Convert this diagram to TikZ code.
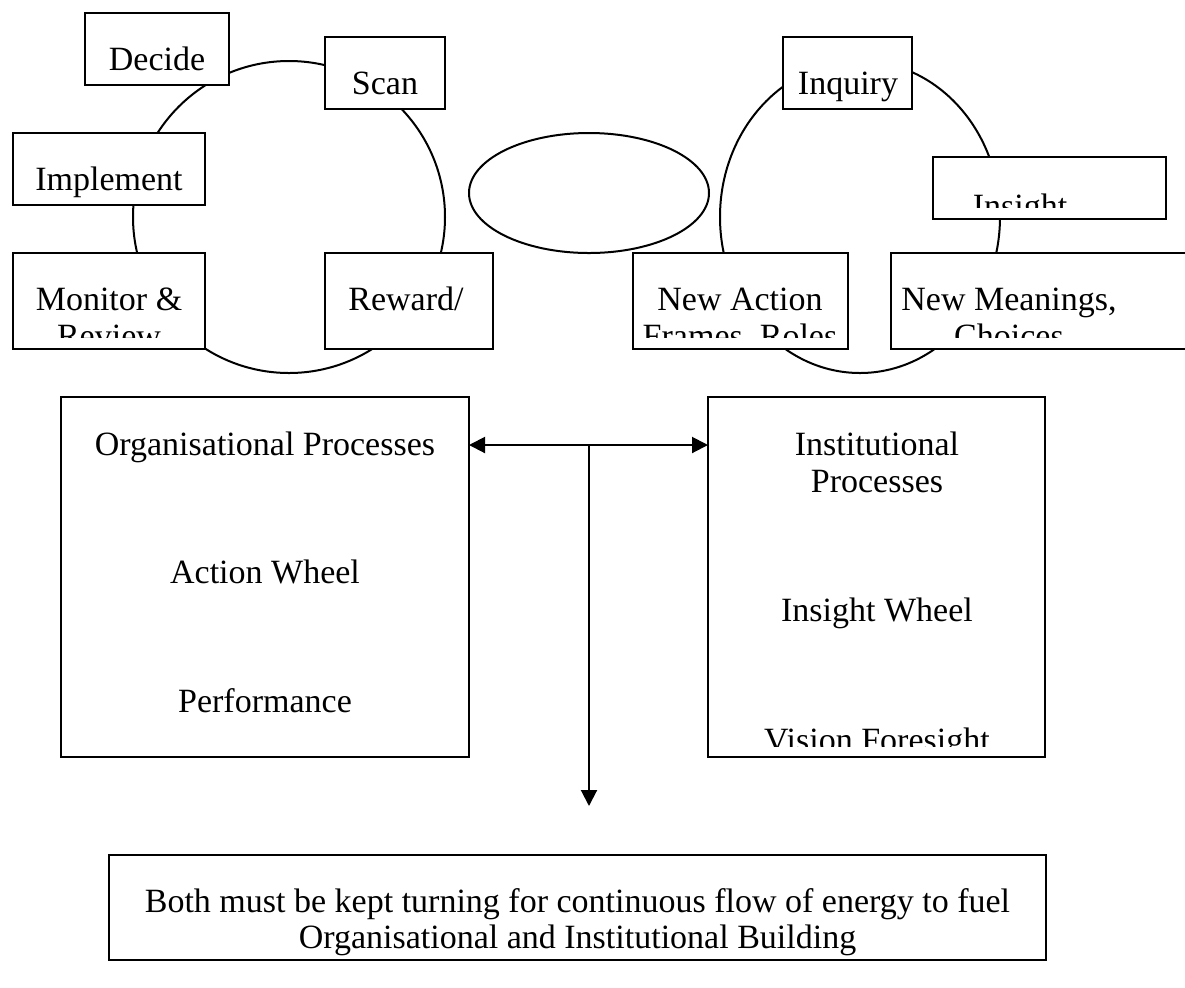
\documentclass[tikz,border=0pt]{standalone}
\usepackage{fontspec}
\setmainfont{Liberation Serif}
\usetikzlibrary{arrows.meta}
\begin{document}
\begin{tikzpicture}[x=0.5pt,y=-0.5pt,
  >={Triangle[length=8pt,width=8pt]},
  box/.style={draw, line width=1pt, fill=white, rectangle, inner sep=0pt, outer sep=0pt},
  lbl/.style={anchor=base, inner sep=0pt, font=\fontsize{17}{18}\selectfont},
  wheel/.style={draw, line width=1pt},
  conn/.style={line width=1pt}
]
\useasboundingbox (0,0) rectangle (1185,987);

% wheels and ellipse
\draw[wheel] (289,217) circle[radius=156];
\draw[wheel] (860,217) ellipse[x radius=140, y radius=156];
\draw[wheel] (589,193) ellipse[x radius=120, y radius=60];

% boxes of the action wheel
\node[box, minimum width=72pt,  minimum height=36pt] (decide)    at (157,49) {};
\node[box, minimum width=60pt,  minimum height=36pt] (scan)      at (385,73) {};
\node[box, minimum width=96pt,  minimum height=36pt] (implement) at (109,169) {};
\node[box, minimum width=96pt,  minimum height=48pt] (monitor)   at (109,301) {};
\node[box, minimum width=84pt,  minimum height=48pt] (reward)    at (409,301) {};
% boxes of the insight wheel
\node[box, minimum width=64.5pt, minimum height=36pt] (inquiry)  at (847.5,73) {};
\node[box, minimum width=116.5pt,minimum height=31pt] (insight)  at (1049.5,188) {};
\node[box, minimum width=107.5pt,minimum height=48pt] (newaction) at (740.5,301) {};
\node[box, minimum width=152pt,  minimum height=48pt] (newmean)  at (1043,301) {};
% big boxes
\node[box, minimum width=204pt,  minimum height=180pt] (org)  at (265,577) {};
\node[box, minimum width=168.5pt,minimum height=180pt] (inst) at (876.5,577) {};
\node[box, minimum width=468.5pt,minimum height=52.5pt] (both) at (577.5,907.5) {};

% texts
\node[lbl] (tdecide) at (157,70) {Decide};
\node[lbl] (tscan) at (385,94) {Scan};
\node[lbl] (timpl) at (109,190) {Implement};
\begin{scope}
  \clip (monitor.north west) rectangle ([yshift=6pt]monitor.south east);
  \node[lbl] (tmon1) at (109,310) {Monitor \&};
  \node[lbl] (tmon2) at (109,347) {Review};
\end{scope}
\node[lbl] (treward) at (406,310) {Reward/};
\node[lbl] (tinq) at (848,94) {Inquiry};
\begin{scope}
  \clip (insight.north west) rectangle ([yshift=6pt]insight.south east);
  \node[lbl] (tins) at (1020,217) {Insight};
\end{scope}
\begin{scope}
  \clip (newaction.north west) rectangle ([yshift=6pt]newaction.south east);
  \node[lbl] (tna1) at (740,310) {New Action};
  \node[lbl] (tna2) at (740,347) {Frames, Roles};
\end{scope}
\begin{scope}
  \clip (newmean.north west) rectangle ([yshift=6pt]newmean.south east);
  \node[lbl] (tnm1) at (1009,310) {New Meanings,};
  \node[lbl] (tnm2) at (1009,347) {Choices};
\end{scope}
\node[lbl] (torg1) at (265,455) {Organisational Processes};
\node[lbl] (torg2) at (265,583) {Action Wheel};
\node[lbl] (torg3) at (265,712) {Performance};
\node[lbl] (tinst1) at (877,455) {Institutional};
\node[lbl] (tinst2) at (877,492) {Processes};
\node[lbl] (tinst3) at (877,621) {Insight Wheel};
\begin{scope}
  \clip (inst.north west) rectangle ([yshift=5.5pt]inst.south east);
  \node[lbl] (tinst4) at (877,751) {Vision Foresight};
\end{scope}
\node[lbl] (tboth1) at (577.5,912) {Both must be kept turning for continuous flow of energy to fuel};
\node[lbl] (tboth2) at (577.5,948) {Organisational and Institutional Building};

% connectors
\coordinate (junc) at (589,445);
\coordinate (down) at (589,806);
\draw[conn, <->] (org.east |- junc) -- (inst.west |- junc);
\draw[conn, ->] (junc) -- (down);
\end{tikzpicture}
\end{document}
